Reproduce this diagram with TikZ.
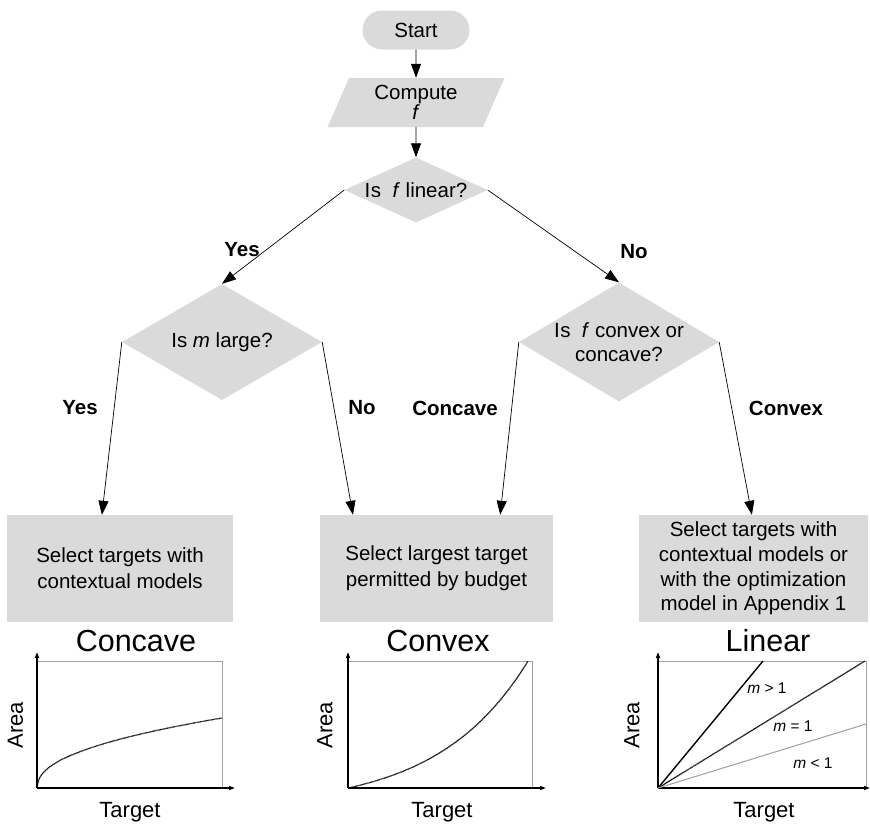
\documentclass[tikz,border=0pt]{standalone}
\usepackage{fontspec}
\setmainfont{Liberation Sans}
\usetikzlibrary{shapes.geometric,shapes.misc,arrows.meta,calc}
\definecolor{boxgray}{RGB}{218,218,218}
\definecolor{framegray}{RGB}{160,160,160}
\begin{document}
\begin{tikzpicture}[x=1pt,y=-1pt,
  shapefill/.style={fill=boxgray,draw=none,inner sep=0pt},
  txt/.style={font=\fontsize{20.5}{24}\selectfont,align=center},
  dia/.style={shapefill,diamond,shape aspect=1},
  procbox/.style={shapefill,rectangle,align=center,font=\fontsize{20.5}{26}\selectfont},
  arr/.style={line width=0.7pt,-{Triangle[length=14pt,width=10pt]}},
  lbl/.style={font=\fontsize{20.5}{24}\selectfont\bfseries},
  axis/.style={line width=1.4pt,-{Triangle[length=6pt,width=4pt]}},
  framel/.style={draw=framegray,line width=0.8pt},
  title/.style={font=\fontsize{30.5}{34}\selectfont,anchor=base},
  axlbl/.style={font=\fontsize{22}{26}\selectfont},
  mlbl/.style={font=\fontsize{15.5}{18}\selectfont},
  dotcurve/.style={line width=1.3pt,dash pattern=on 0.7pt off 0.5pt}
]
\useasboundingbox (0,0) rectangle (870,823);

% flowchart
\node[shapefill,rounded rectangle,minimum width=107pt,minimum height=39pt,txt] (start) at (416,30) {Start};
\node[shapefill,trapezium,trapezium left angle=68.8,trapezium right angle=111.2,trapezium stretches=true,
      minimum width=177pt,minimum height=49pt,align=center,font=\fontsize{20.5}{19}\selectfont] (comp) at (416,102.5) {Compute\\\textit{f}};
\node[dia,minimum width=143pt,minimum height=65pt] (d1) at (416,190) {};
\node[txt] (d1t) at (d1) {I\kern0.5pt s\ \ \textit{f} linear?};
\node[dia,minimum width=200pt,minimum height=116pt] (d2) at (222,342) {};
\node[txt] (d2t) at (d2) {Is \textit{m} large?};
\node[dia,minimum width=200pt,minimum height=119pt] (d3) at (619,342) {};
\node[txt] (d3t) at (d3) {I\kern0.5pt s\ \ \textit{f} convex or\\concave?};

\node[procbox,minimum width=226pt,minimum height=107pt] (b1) at (120,568.5) {Select targets with\\contextual models};
\node[procbox,minimum width=233pt,minimum height=107pt] (b2) at (436.5,568.5) {Select largest target\\permitted by budget};
\node[procbox,minimum width=229pt,minimum height=107pt,font=\fontsize{20.5}{24.7}\selectfont] (b3) at (753.5,568.5) {Select targets with\\contextual models or\\with the optimization\\model in Appendix 1};

\draw[arr] (start) -- (comp);
\draw[arr] (comp) -- (d1);
\draw[arr] (d1.west) -- (d2.north);
\draw[arr] (d1.east) -- (d3.north);
\draw[arr] (d2.west) -- ($(b1.north west)!0.42!(b1.north east)$);
\draw[arr] (d2.east) -- ($(b2.north west)!0.142!(b2.north east)$);
\draw[arr] (d3.west) -- ($(b2.north west)!0.773!(b2.north east)$);
\draw[arr] (d3.east) -- ($(b3.north west)!0.493!(b3.north east)$);

\node[lbl] (yes1) at (242,250) {Yes};
\node[lbl] (no1) at (634,252) {No};
\node[lbl] (yes2) at (80,408) {Yes};
\node[lbl] (no2) at (362,408) {No};
\node[lbl] (conc) at (455,408) {Concave};
\node[lbl] (conv) at (786,408) {Convex};

% chart 1: concave
\node[title] (t1) at (136,651) {Concave};
\draw[framel] (37,661) -- (222,661) -- (222,788);
\draw[axis] (37,788) -- (37,652);
\draw[axis] (37,788) -- (235,788);
\draw[dotcurve] (37,788) -- plot[domain=0.0005:1,samples=80] ({37+185*\x},{788-70*(\x)^0.45});
\node[axlbl,rotate=90] (a1) at (15.5,725) {Area};
\node[axlbl,anchor=base] (x1) at (130,817) {Target};

% chart 2: convex
\node[title] (t2) at (438,651) {Convex};
\draw[framel] (348,661) -- (532,661) -- (532,788);
\draw[axis] (348,788) -- (348,652);
\draw[axis] (348,788) -- (546,788);
\draw[dotcurve] plot[domain=0:1,samples=80] ({348+180*\x},{788-127*(exp(2*\x)-1)/(exp(2)-1)});
\node[axlbl,rotate=90] (a2) at (325,725) {Area};
\node[axlbl,anchor=base] (x2) at (442,817) {Target};

% chart 3: linear
\node[title] (t3) at (768,651) {Linear};
\draw[framel] (658,661) -- (866,661) -- (866,788);
\draw[axis] (658,788) -- (658,652);
\draw[axis] (658,788) -- (870,788);
\draw[line width=1.4pt] (658,788) -- (763,661);
\draw[dotcurve] (658,788) -- (865,661);
\draw[line width=1pt,draw=framegray] (658,788) -- (866,724);
\node[mlbl] (m1) at (767,688) {\textit{m} > 1};
\node[mlbl] (m2) at (793,726) {\textit{m} = 1};
\node[mlbl] (m3) at (813,763) {\textit{m} < 1};
\node[axlbl,rotate=90] (a3) at (632,725) {Area};
\node[axlbl,anchor=base] (x3) at (764,817) {Target};
\end{tikzpicture}
\end{document}
